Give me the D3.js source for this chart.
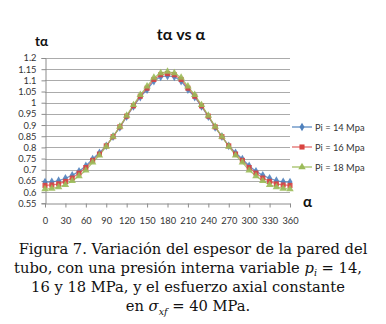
<!DOCTYPE html>
<html><head><meta charset="utf-8">
<script src="https://cdn.jsdelivr.net/npm/d3@7"></script>
<style>body{margin:0;background:#fff}svg{display:block}</style>
</head><body>
<svg id="c" width="386" height="324"></svg>
<script>
const angles = [0,10,20,30,40,50,60,70,80,90,100,110,120,130,140,150,160,170,180,190,200,210,220,230,240,250,260,270,280,290,300,310,320,330,340,350,360];
const pi14 = [0.645,0.646,0.651,0.662,0.675,0.693,0.717,0.748,0.776,0.807,0.848,0.890,0.938,0.983,1.025,1.059,1.097,1.116,1.120,1.116,1.097,1.059,1.025,0.983,0.938,0.890,0.848,0.807,0.776,0.748,0.717,0.693,0.675,0.662,0.651,0.646,0.645];
const pi16 = [0.630,0.632,0.637,0.648,0.663,0.685,0.710,0.742,0.770,0.807,0.848,0.892,0.940,0.986,1.029,1.065,1.104,1.125,1.130,1.125,1.104,1.065,1.029,0.986,0.940,0.892,0.848,0.807,0.770,0.742,0.710,0.685,0.663,0.648,0.637,0.632,0.630];
const pi18 = [0.614,0.616,0.623,0.633,0.650,0.672,0.697,0.733,0.764,0.804,0.848,0.893,0.942,0.990,1.035,1.073,1.112,1.133,1.139,1.133,1.112,1.073,1.035,0.990,0.942,0.893,0.848,0.804,0.764,0.733,0.697,0.672,0.650,0.633,0.623,0.616,0.614];
const seriesNames = ["Pi = 14 Mpa","Pi = 16 Mpa","Pi = 18 Mpa"];
const xTicks = [0,30,60,90,120,150,180,210,240,270,300,330,360];
const yTicks = [0.55,0.6,0.65,0.7,0.75,0.8,0.85,0.9,0.95,1,1.05,1.1,1.15,1.2];
const yTickLabels = ["0.55","0.6","0.65","0.7","0.75","0.8","0.85","0.9","0.95","1","1.05","1.1","1.15","1.2"];

const svg = d3.select("#c");
const x = d3.scaleLinear().domain([0,360]).range([45,290]);
const y = d3.scaleLinear().domain([0.55,1.2]).range([203.3,58]);
const sans = "Lato, 'Open Sans', sans-serif";

// gridlines
svg.append("g").selectAll("line").data(yTicks.slice(1)).join("line")
  .attr("x1",45).attr("x2",290).attr("y1",d=>Math.round(y(d))+0.5).attr("y2",d=>Math.round(y(d))+0.5)
  .attr("stroke","#ababab").attr("stroke-width",1);

// y axis
const ya = svg.append("g").attr("transform","translate(45.5,0)")
  .call(d3.axisLeft(y).tickValues(yTicks).tickFormat((d,i)=>yTickLabels[i]).tickSize(4).tickPadding(5));
ya.select(".domain").attr("stroke","#8c8c8c");
ya.selectAll(".tick line").attr("stroke","#8c8c8c");
ya.selectAll("text").attr("font-family",sans).attr("font-size","9.3px").attr("fill","#333");

// x axis
const xa = svg.append("g").attr("transform","translate(0,"+(Math.round(y(0.55))+0.5)+")")
  .call(d3.axisBottom(x).tickValues(xTicks).tickSize(4).tickPadding(10).tickSizeOuter(0));
xa.select(".domain").attr("stroke","#8c8c8c");
xa.selectAll(".tick line").attr("stroke","#8c8c8c");
xa.selectAll("text").attr("font-family",sans).attr("font-size","9.3px").attr("fill","#333");

const colors = ["#4f81bd","#e0625f","#9bbb59"];
const markerCol = ["#4f81bd","#d9433f","#9bbb59"];
const data = [pi14,pi16,pi18];
const sym = [d3.symbolDiamond, d3.symbolSquare, d3.symbolTriangle];
const symSize = [22,26,24];
const line = d3.line().x((d,i)=>x(angles[i])).y(d=>y(d));

data.forEach((s,k)=>{
  svg.append("path").datum(s).attr("d",line).attr("fill","none")
    .attr("stroke",colors[k]).attr("stroke-width",1.2).attr("opacity",0.85);
});
data.forEach((s,k)=>{
  svg.append("g").selectAll("path").data(s).join("path")
    .attr("transform",(d,i)=>`translate(${x(angles[i])},${y(d)})`)
    .attr("d",d3.symbol().type(sym[k]).size(symSize[k]))
    .attr("fill",markerCol[k]).attr("opacity",0.9);
});

// legend
const legY = [127,147,167];
seriesNames.forEach((n,k)=>{
  const g = svg.append("g");
  g.append("line").attr("x1",292).attr("x2",312).attr("y1",legY[k]).attr("y2",legY[k])
    .attr("stroke",colors[k]).attr("stroke-width",1.2);
  g.append("path").attr("transform",`translate(302,${legY[k]})`)
    .attr("d",d3.symbol().type(sym[k]).size(symSize[k])).attr("fill",markerCol[k]);
  g.append("text").attr("x",315).attr("y",legY[k]+3.5).text(n)
    .attr("font-family",sans).attr("font-size","9.3px").attr("fill","#333");
});

// titles
svg.append("text").attr("x",181).attr("y",40).attr("text-anchor","middle")
  .attr("font-family",sans).attr("font-weight","bold").attr("font-size","16px").attr("fill","#111").text("tα vs α");
svg.append("text").attr("x",35).attr("y",46)
  .attr("font-family",sans).attr("font-weight","bold").attr("font-size","13.5px").attr("fill","#111").text("tα");
svg.append("text").attr("x",303).attr("y",207)
  .attr("font-family",sans).attr("font-weight","bold").attr("font-size","15px").attr("fill","#111").text("α");

// caption
const serif = "'DejaVu Serif', 'Liberation Serif', serif";
const cap = svg.append("g").attr("font-family",serif).attr("font-size","14.7px").attr("fill","#111").attr("text-anchor","middle");
cap.append("text").attr("x",193).attr("y",254).text("Figura 7. Variación del espesor de la pared del");
const l2 = cap.append("text").attr("x",188).attr("y",273);
l2.append("tspan").text("tubo, con una presión interna variable ");
l2.append("tspan").attr("font-style","italic").text("p");
l2.append("tspan").attr("font-style","italic").attr("font-size","9.5px").attr("dy",3).text("i");
l2.append("tspan").attr("dy",-3).text(" = 14,");
cap.append("text").attr("x",188).attr("y",292).text("16 y 18 MPa, y el esfuerzo axial constante");
const l4 = cap.append("text").attr("x",188).attr("y",311);
l4.append("tspan").text("en ");
l4.append("tspan").attr("font-style","italic").text("σ");
l4.append("tspan").attr("font-style","italic").attr("font-size","9.5px").attr("dy",4).text("xf");
l4.append("tspan").attr("dy",-4).text(" = 40 MPa.");
</script>
</body></html>
